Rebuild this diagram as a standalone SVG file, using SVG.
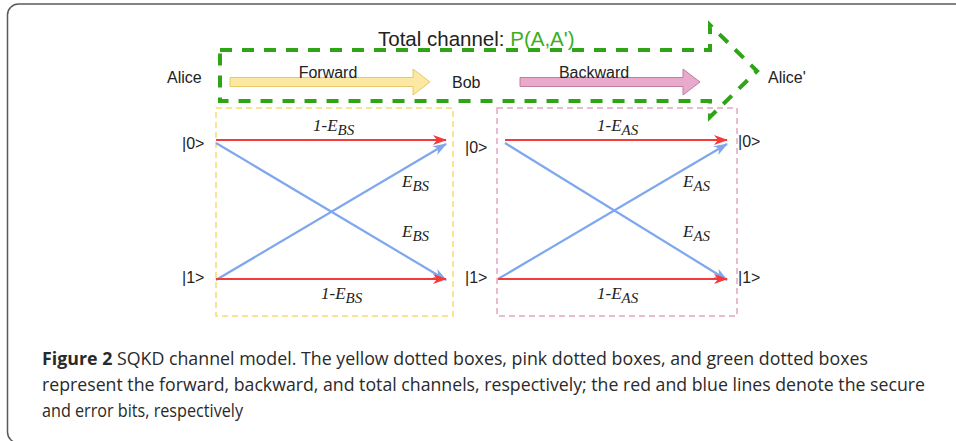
<svg xmlns="http://www.w3.org/2000/svg" width="956" height="441" viewBox="0 0 956 441">
  <style>
    .lbl { font-family: "Liberation Sans", Arial, sans-serif; font-size: 16px; fill: #222; }
    .ket { font-family: "Liberation Sans", Arial, sans-serif; font-size: 16px; fill: #222; }
    .math { font-family: "Liberation Serif", "Times New Roman", serif; font-style: italic; font-size: 17px; fill: #222; }
    .sub { font-size: 15px; }
    .cap { font-family: "Liberation Sans Narrow", "Open Sans", "Liberation Sans", sans-serif; font-size: 18px; fill: #2a2a2a; }
    .secure { stroke: #f43a3a; stroke-width: 2.2; fill: none; marker-end: url(#headRed); }
    .error { stroke: #7fa7ee; stroke-width: 2.2; fill: none; marker-end: url(#headBlue); }
  </style>
  <defs>
    <marker id="headRed" viewBox="0 0 14 10" refX="13" refY="5" markerWidth="14" markerHeight="10" markerUnits="userSpaceOnUse" orient="auto">
      <path d="M0,0 L14,5 L0,10 L4,5 z" fill="#f43a3a"/>
    </marker>
    <marker id="headBlue" viewBox="0 0 14 10" refX="13" refY="5" markerWidth="14" markerHeight="10" markerUnits="userSpaceOnUse" orient="auto">
      <path d="M0,0 L14,5 L0,10 L4,5 z" fill="#7fa7ee"/>
    </marker>
  </defs>

  <rect width="956" height="441" fill="#ffffff"/>
  <!-- figure frame (right and bottom edges run past the page) -->
  <rect x="7.5" y="4" width="970" height="439" rx="11" fill="none" stroke="#5a5a5a" stroke-width="1.5"/>

  <!-- total channel block arrow -->
  <g id="total-channel">
    <path d="M220,50 L710,50 L710,25 L757,71 L710,117 L710,101 L220,101 Z" fill="none" stroke="#2ea416" stroke-width="4" stroke-dasharray="12,10"/>
    <text x="378" y="46" font-family="Liberation Sans, Arial, sans-serif" font-size="20.5" fill="#222">Total channel: <tspan fill="#3cae22">P(A,A')</tspan></text>
  </g>

  <!-- forward / backward block arrows -->
  <g id="forward">
    <path d="M230,77.5 L413,77.5 L413,69 L430,82 L413,95 L413,86.5 L230,86.5 Z" fill="#fbe8a2" stroke="#e8c964" stroke-width="1"/>
    <text class="lbl" x="328" y="78" text-anchor="middle">Forward</text>
  </g>
  <g id="backward">
    <path d="M520,77.5 L683,77.5 L683,69 L700,82 L683,95 L683,86.5 L520,86.5 Z" fill="#e8a9cb" stroke="#c27ca3" stroke-width="1"/>
    <text class="lbl" x="594" y="78" text-anchor="middle">Backward</text>
  </g>

  <g id="alice"><text class="lbl" x="167" y="83">Alice</text></g>
  <g id="bob"><text class="lbl" x="452" y="88">Bob</text></g>
  <g id="alice-prime"><text class="lbl" x="768" y="83">Alice'</text></g>

  <!-- forward channel box -->
  <g id="forward-channel">
    <rect x="216" y="108" width="237" height="208" fill="none" stroke="#f6dc70" stroke-width="1.5" stroke-dasharray="6,4"/>
    <text class="ket" x="182" y="149">|0&gt;</text>
    <text class="ket" x="182" y="283">|1&gt;</text>
  </g>

  <!-- backward channel box -->
  <g id="backward-channel">
    <rect x="497" y="108" width="240" height="208" fill="none" stroke="#e3a6c2" stroke-width="1.5" stroke-dasharray="6,4"/>
    <text class="ket" x="465" y="153">|0&gt;</text>
    <text class="ket" x="465" y="283">|1&gt;</text>
    <text class="ket" x="738" y="147">|0&gt;</text>
    <text class="ket" x="738" y="283">|1&gt;</text>
  </g>

  <!-- transitions -->
  <g id="connectors">
    <line class="error" x1="216" y1="143" x2="446" y2="280"/>
    <line class="error" x1="216" y1="280" x2="446" y2="144"/>
    <line class="secure" x1="216" y1="140" x2="446" y2="140"/>
    <line class="secure" x1="216" y1="279" x2="446" y2="279"/>

    <line class="error" x1="505" y1="143" x2="727" y2="280"/>
    <line class="error" x1="498" y1="279" x2="727" y2="144"/>
    <line class="secure" x1="505" y1="140" x2="727" y2="140"/>
    <line class="secure" x1="498" y1="279" x2="727" y2="279"/>

    <text class="math" x="313" y="131">1-E<tspan class="sub" dy="4">BS</tspan></text>
    <text class="math" x="402" y="187">E<tspan class="sub" dy="4">BS</tspan></text>
    <text class="math" x="402" y="237">E<tspan class="sub" dy="4">BS</tspan></text>
    <text class="math" x="321" y="299">1-E<tspan class="sub" dy="4">BS</tspan></text>

    <text class="math" x="597" y="131">1-E<tspan class="sub" dy="4">AS</tspan></text>
    <text class="math" x="683" y="187">E<tspan class="sub" dy="4">AS</tspan></text>
    <text class="math" x="683" y="237">E<tspan class="sub" dy="4">AS</tspan></text>
    <text class="math" x="597" y="299">1-E<tspan class="sub" dy="4">AS</tspan></text>
  </g>

  <!-- caption -->
  <g id="caption">
    <text class="cap" x="42" y="365" textLength="826" lengthAdjust="spacingAndGlyphs"><tspan font-weight="bold">Figure 2</tspan>  SQKD channel model. The yellow dotted boxes, pink dotted boxes, and green dotted boxes</text>
    <text class="cap" x="42" y="391" textLength="883" lengthAdjust="spacingAndGlyphs">represent the forward, backward, and total channels, respectively; the red and blue lines denote the secure</text>
    <text class="cap" x="42" y="417" textLength="201" lengthAdjust="spacingAndGlyphs">and error bits, respectively</text>
  </g>
</svg>
